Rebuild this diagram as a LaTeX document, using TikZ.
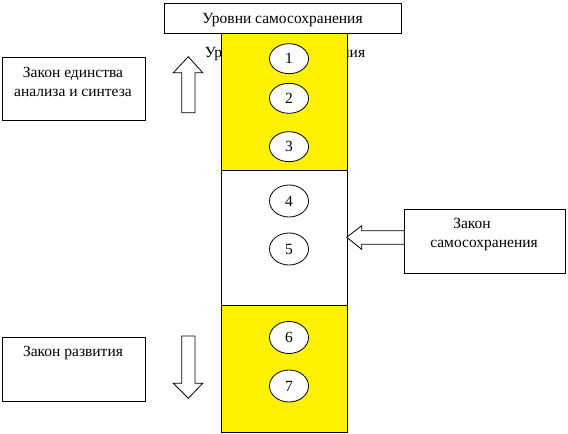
\documentclass[tikz,border=0pt]{standalone}
\usepackage{fontspec}
\setmainfont{Liberation Serif}
\tikzset{
  box/.style={draw=black, line width=0.8pt, fill=white},
  lbl/.style={font=\fontsize{15.5}{18}\selectfont, anchor=base, inner sep=0pt},
  num/.style={draw=black, line width=0.8pt, fill=white, ellipse, minimum width=39pt, minimum height=30pt, inner sep=0pt, font=\fontsize{15.5}{18}\selectfont},
  band/.style={draw=black, line width=0.8pt},
  bigarrow/.style={draw=black, line width=0.8pt, fill=white}
}
\usetikzlibrary{shapes.geometric}
\begin{document}
\begin{tikzpicture}[x=1pt,y=-1pt]
\useasboundingbox (0,0) rectangle (568,434);
% hidden text behind column
\node[lbl] (hid) at (285,57) {Уровни самосохранения};
% column
\path[band, fill=yellow] (221.5,33) rectangle (347.5,170);
\path[band, fill=white] (221.5,170) rectangle (347.5,305.5);
\path[band, fill=yellow] (221.5,305.5) rectangle (347.5,432);
% top box
\path[box] (164,3) rectangle (401,33);
\node[lbl] (title) at (282.5,23) {Уровни самосохранения};
% ellipses
\node[num] (e1) at (289,58.7) {1};
\node[num] (e2) at (289,98.3) {2};
\node[num] (e3) at (289,146.7) {3};
\node[num, minimum height=32pt] (e4) at (289,201) {4};
\node[num, minimum height=32pt] (e5) at (289,249) {5};
\node[num, minimum height=32pt] (e6) at (289,337.5) {6};
\node[num, minimum height=32pt] (e7) at (289,386) {7};
% left box 1
\path[box] (2.7,57.3) rectangle (145.7,120.7);
\node[lbl] (l1a) at (73,77.7) {Закон единства};
\node[lbl] (l1b) at (73,96) {анализа и синтеза};
% up arrow
\path[bigarrow] (188.3,56.7) -- (202.7,72.7) -- (195,72.7) -- (195,112.7) -- (181.7,112.7) -- (181.7,72.7) -- (173.3,72.7) -- cycle;
% right box
\path[box] (404.3,209.3) rectangle (565.5,273);
\node[lbl] (r1a) at (472,228) {Закон};
\node[lbl] (r1b) at (484,247) {самосохранения};
% left arrow
\path[bigarrow] (346.7,237.3) -- (361.7,225.7) -- (361.7,230.7) -- (404.3,230.7) -- (404.3,244.3) -- (361.7,244.3) -- (361.7,249.3) -- cycle;
% bottom-left box
\path[box] (2,337.3) rectangle (145.7,401);
\node[lbl] (l2) at (73,356) {Закон развития};
% down arrow
\path[bigarrow] (181.7,336) -- (195,336) -- (195,383.3) -- (202.7,383.3) -- (188.3,398.3) -- (173.3,383.3) -- (181.7,383.3) -- cycle;
\end{tikzpicture}
\end{document}
